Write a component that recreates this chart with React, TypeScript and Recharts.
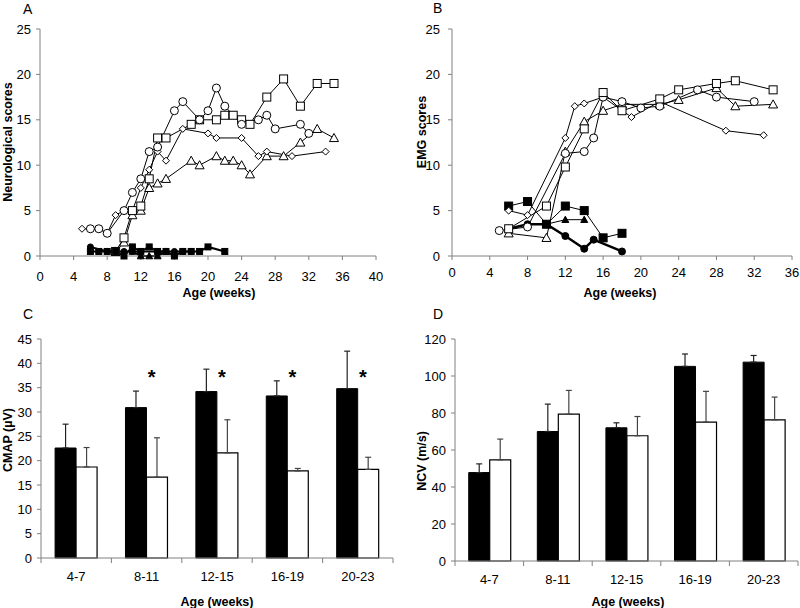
import { Bar, ComposedChart, ErrorBar, Label, Line, LineChart, XAxis, YAxis } from 'recharts';

const FONT = '"Liberation Sans", Arial, sans-serif';
const AXIS = '#808080';

// A: neurological scores by age (weeks)
const neuroDiamondWeeks = [5, 6, 7, 8, 9, 10, 11, 12, 13, 14, 15, 17, 20, 21, 24, 26, 27, 30, 34];
const neuroDiamond = [3, 3, 3, 2.5, 4.5, 5, 5, 7.5, 9.5, 11.5, 10.5, 14, 13.5, 13, 13, 11, 11.5, 11, 11.5];
const neuroCircleWeeks = [6, 7, 8, 10, 11, 12, 13, 14, 16, 17, 19, 20, 21, 22, 24, 26, 27, 28, 31, 32];
const neuroCircle = [3, 3, 2.5, 5, 7, 8.5, 11.5, 12, 16, 17, 15, 16, 18.5, 16.5, 14.5, 15, 15.5, 14, 14.5, 13.5];
const neuroSquareWeeks = [9, 10, 11, 12, 13, 14, 15, 18, 19, 21, 22, 23, 24, 25, 27, 29, 31, 33, 35];
const neuroSquare = [0.5, 2, 5, 5.5, 8.5, 13, 13, 14.5, 15, 15, 15.5, 15.5, 15, 14.5, 17.5, 19.5, 16.5, 19, 19];
const neuroTriangleWeeks = [9, 10, 11, 12, 13, 14, 15, 18, 19, 21, 22, 23, 24, 25, 27, 29, 31, 33, 35];
const neuroTriangle = [0.5, 1.5, 4.5, 5, 7.5, 8, 8.5, 10.5, 10, 11, 10.5, 10.5, 10, 9, 11, 11, 12.5, 14, 13];
const neuroFilledSquareWeeks = [6, 7, 8, 9, 10, 11, 12, 13, 14, 15, 16, 17, 18, 19, 20, 22];
const neuroFilledSquare = [0.5, 0.5, 0.5, 0.5, 0, 1, 0.5, 1, 0.5, 0.5, 0, 0.5, 0.5, 0.5, 1, 0.5];
const neuroFilledCircleWeeks = [6, 8, 10, 11, 12, 14, 15, 16, 17, 18];
const neuroFilledCircle = [1, 0.5, 0.5, 0.5, 0.5, 0.5, 0.5, 0.5, 0.5, 0.5];
const neuroFilledTriangleWeeks = [11, 12, 13, 14, 15];
const neuroFilledTriangle = [0.5, 0, 0, 0, 0.5];

// B: EMG scores by age (weeks)
const emgDiamondWeeks = [6, 8, 12, 13, 14, 16, 19, 22, 29, 33];
const emgDiamond = [5, 4.5, 13, 16.5, 16.8, 17.5, 15.3, 17, 13.8, 13.3];
const emgCircleWeeks = [5, 8, 12, 14, 15, 16, 18, 20, 22, 26, 28, 32];
const emgCircle = [2.8, 3.2, 11.3, 11.5, 13, 17.5, 17, 16.3, 16.5, 18.3, 17.5, 17];
const emgSquareWeeks = [6, 10, 12, 14, 16, 18, 22, 24, 28, 30, 34];
const emgSquare = [3, 5.5, 9.8, 14, 18, 16, 17.3, 18.3, 19, 19.3, 18.3];
const emgTriangleWeeks = [6, 10, 12, 14, 16, 18, 22, 24, 28, 30, 34];
const emgTriangle = [2.5, 2, 11.5, 14.8, 16, 16.7, 16.7, 17.2, 18.5, 16.5, 16.7];
const emgFilledSquareWeeks = [6, 8, 10, 12, 14, 16, 18];
const emgFilledSquare = [5.5, 6, 3.5, 5.5, 5, 2, 2.5];
const emgFilledTriangleWeeks = [10, 12, 14];
const emgFilledTriangle = [3.5, 4, 4];
const emgFilledCircleWeeks = [6, 8, 10, 12, 14, 15, 18];
const emgFilledCircle = [3, 3.5, 3.5, 2.2, 0.8, 1.8, 0.5];

const neuroWeekTicks = [0, 4, 8, 12, 16, 20, 24, 28, 32, 36, 40];
const emgWeekTicks = [0, 4, 8, 12, 16, 20, 24, 28, 32, 36];
const scoreTicks = [0, 5, 10, 15, 20, 25];

// C, D: grouped bars
const ageGroups = ['4-7', '8-11', '12-15', '16-19', '20-23'];
const cmapBlack = [22.6, 30.9, 34.2, 33.3, 34.8];
const cmapBlackErr = [4.9, 3.4, 4.6, 3.1, 7.7];
const cmapWhite = [18.7, 16.6, 21.6, 17.9, 18.2];
const cmapWhiteErr = [4.0, 8.1, 6.8, 0.5, 2.5];
const cmapSignificant = [null, 38, 38, 38, 38];
const cmapTicks = [0, 5, 10, 15, 20, 25, 30, 35, 40, 45];

const ncvBlack = [47.8, 70, 72, 105.2, 107.5];
const ncvBlackErr = [4.7, 14.8, 2.7, 6.7, 3.6];
const ncvWhite = [54.7, 79.4, 67.7, 75.1, 76.3];
const ncvWhiteErr = [11.2, 12.8, 10.4, 16.6, 12.3];
const ncvTicks = [0, 20, 40, 60, 80, 100, 120];

const toPoints = (xs: number[], ys: number[]) => xs.map((x, i) => ({ x, y: ys[i] }));

const cmapRows = ageGroups.map((age, i) => ({
  age,
  black: cmapBlack[i],
  blackErr: [0, cmapBlackErr[i]],
  white: cmapWhite[i],
  whiteErr: [0, cmapWhiteErr[i]],
  sig: cmapSignificant[i],
}));

const ncvRows = ageGroups.map((age, i) => ({
  age,
  black: ncvBlack[i],
  blackErr: [0, ncvBlackErr[i]],
  white: ncvWhite[i],
  whiteErr: [0, ncvWhiteErr[i]],
}));

type TShape = 'circle' | 'square' | 'diamond' | 'triangle';

const marker = (shape: TShape, filled: boolean, s = 4) => (props: any) => {
  const { cx, cy, index } = props;
  const key = `m-${shape}-${index}`;
  if (cx == null || cy == null) return <g key={key} />;
  const st = { fill: filled ? '#000' : '#fff', stroke: '#000', strokeWidth: 1 };
  if (shape === 'circle') return <circle key={key} cx={cx} cy={cy} r={s} {...st} />;
  if (shape === 'square')
    return <rect key={key} x={cx - s} y={cy - s} width={s * 2} height={s * 2} {...st} />;
  if (shape === 'diamond')
    return (
      <polygon key={key} points={`${cx},${cy - s} ${cx + s},${cy} ${cx},${cy + s} ${cx - s},${cy}`} {...st} />
    );
  return (
    <polygon
      key={key}
      points={`${cx},${cy - s} ${cx + s},${cy + s * 0.8} ${cx - s},${cy + s * 0.8}`}
      {...st}
    />
  );
};

const titleText = (text: string, x: number, y: number, rotate = false) => (
  <Label
    content={() => (
      <text
        x={x}
        y={y}
        transform={rotate ? `rotate(-90 ${x} ${y})` : undefined}
        textAnchor="middle"
        dominantBaseline="central"
        fontFamily={FONT}
        fontSize={12.5}
        fontWeight="bold"
        fill="#000"
      >
        {text}
      </text>
    )}
  />
);

const tickStyle = { fontSize: 13, fill: '#000', fontFamily: FONT };

type TSeries = { pts: { x: number; y: number }[]; shape: TShape; filled: boolean; size: number; width: number };

const ScorePanel = ({
  series,
  xTicks,
  left,
  yAxisWidth,
  right,
  yTitle,
  yTitleX,
  yTitleY,
  xTitleX,
  xTickMargin,
  yTickMargin,
}: {
  series: TSeries[];
  xTicks: number[];
  left: number;
  yAxisWidth: number;
  right: number;
  yTitle: string;
  yTitleX: number;
  yTitleY: number;
  xTitleX: number;
  xTickMargin: number;
  yTickMargin: number;
}) => (
  <div style={{ position: 'absolute', left, top: 0 }}>
    <LineChart width={400} height={300} margin={{ top: 29, right, bottom: 0, left: 0 }}>
      <XAxis
        type="number"
        dataKey="x"
        domain={[xTicks[0], xTicks[xTicks.length - 1]]}
        ticks={xTicks}
        interval={0}
        height={44}
        tick={tickStyle}
        tickSize={4}
        tickMargin={xTickMargin}
        tickLine={{ stroke: AXIS }}
        axisLine={{ stroke: AXIS }}
      >
        {titleText('Age (weeks)', xTitleX, 293)}
      </XAxis>
      <YAxis
        type="number"
        domain={[0, 25]}
        ticks={scoreTicks}
        interval={0}
        width={yAxisWidth}
        tick={tickStyle}
        tickSize={4}
        tickMargin={yTickMargin}
        tickLine={{ stroke: AXIS }}
        axisLine={{ stroke: AXIS }}
      >
        {titleText(yTitle, yTitleX, yTitleY, true)}
      </YAxis>
      {series.map((s, i) => (
        <Line
          key={i}
          data={s.pts}
          dataKey="y"
          type="linear"
          stroke="#000"
          strokeWidth={s.width}
          dot={marker(s.shape, s.filled, s.size)}
          activeDot={false}
          isAnimationActive={false}
        />
      ))}
    </LineChart>
  </div>
);

const neuroSeries: TSeries[] = [
  { pts: toPoints(neuroTriangleWeeks, neuroTriangle), shape: 'triangle', filled: false, size: 4.5, width: 1 },
  { pts: toPoints(neuroDiamondWeeks, neuroDiamond), shape: 'diamond', filled: false, size: 3.5, width: 1 },
  { pts: toPoints(neuroSquareWeeks, neuroSquare), shape: 'square', filled: false, size: 4, width: 1 },
  { pts: toPoints(neuroCircleWeeks, neuroCircle), shape: 'circle', filled: false, size: 4, width: 1 },
  { pts: toPoints(neuroFilledCircleWeeks, neuroFilledCircle), shape: 'circle', filled: true, size: 3, width: 2 },
  { pts: toPoints(neuroFilledTriangleWeeks, neuroFilledTriangle), shape: 'triangle', filled: true, size: 3.5, width: 2 },
  { pts: toPoints(neuroFilledSquareWeeks, neuroFilledSquare), shape: 'square', filled: true, size: 3, width: 2 },
];

const emgSeries: TSeries[] = [
  { pts: toPoints(emgFilledSquareWeeks, emgFilledSquare), shape: 'square', filled: true, size: 4, width: 1 },
  { pts: toPoints(emgFilledTriangleWeeks, emgFilledTriangle), shape: 'triangle', filled: true, size: 3.5, width: 1 },
  { pts: toPoints(emgFilledCircleWeeks, emgFilledCircle), shape: 'circle', filled: true, size: 3.5, width: 2.5 },
  { pts: toPoints(emgDiamondWeeks, emgDiamond), shape: 'diamond', filled: false, size: 3.5, width: 1 },
  { pts: toPoints(emgTriangleWeeks, emgTriangle), shape: 'triangle', filled: false, size: 4.5, width: 1 },
  { pts: toPoints(emgCircleWeeks, emgCircle), shape: 'circle', filled: false, size: 4, width: 1 },
  { pts: toPoints(emgSquareWeeks, emgSquare), shape: 'square', filled: false, size: 4, width: 1 },
];

const CategoryTick = (props: any) => {
  const { x, y, payload, index, count, band } = props;
  const axisY = y - 8;
  const half = payload && payload.offset > 0 ? payload.offset : band / 2;
  return (
    <g>
      <line x1={x - half} y1={axisY} x2={x - half} y2={axisY + 5} stroke={AXIS} />
      {index === count - 1 && <line x1={x + half} y1={axisY} x2={x + half} y2={axisY + 5} stroke={AXIS} />}
      <text x={x} y={axisY + 23} textAnchor="middle" fontSize={13} fontFamily={FONT} fill="#000">
        {payload.value}
      </text>
    </g>
  );
};

const StarMark = (props: any) => {
  const { cx, cy, value, index } = props;
  const key = `star-${index}`;
  if (value == null || cx == null || cy == null) return <g key={key} />;
  return (
    <text key={key} x={cx + 5} y={cy + 11} textAnchor="middle" fontSize={20} fontWeight="bold" fontFamily={FONT} fill="#000">
      *
    </text>
  );
};

const BarPanel = ({
  rows,
  left,
  yAxisWidth,
  right,
  xAxisHeight,
  yMax,
  yTicks,
  yTitle,
  yTitleX,
  yTitleY,
  xTitleX,
  band,
  withStars,
}: {
  rows: any[];
  left: number;
  yAxisWidth: number;
  right: number;
  xAxisHeight: number;
  yMax: number;
  yTicks: number[];
  yTitle: string;
  yTitleX: number;
  yTitleY: number;
  xTitleX: number;
  band: number;
  withStars: boolean;
}) => (
  <div style={{ position: 'absolute', left, top: 300 }}>
    <ComposedChart
      width={400}
      height={308}
      data={rows}
      margin={{ top: 39, right, bottom: 0, left: 0 }}
      barCategoryGap="20%"
      barGap={0}
    >
      <XAxis
        dataKey="age"
        interval={0}
        height={xAxisHeight}
        tickSize={6}
        tickMargin={2}
        tickLine={false}
        axisLine={{ stroke: AXIS }}
        tick={(p: any) => <CategoryTick {...p} count={rows.length} band={band} />}
      >
        {titleText('Age (weeks)', xTitleX, 301.5)}
      </XAxis>
      <YAxis
        type="number"
        domain={[0, yMax]}
        ticks={yTicks}
        interval={0}
        width={yAxisWidth}
        tick={tickStyle}
        tickSize={4}
        tickMargin={5}
        tickLine={{ stroke: AXIS }}
        axisLine={{ stroke: AXIS }}
      >
        {titleText(yTitle, yTitleX, yTitleY, true)}
      </YAxis>
      <Bar dataKey="black" fill="#000" stroke="#000" strokeWidth={1} isAnimationActive={false}>
        <ErrorBar dataKey="blackErr" width={3} stroke="#222" strokeWidth={1.2} direction="y" />
      </Bar>
      <Bar dataKey="white" fill="#fff" stroke="#000" strokeWidth={1.2} isAnimationActive={false}>
        <ErrorBar dataKey="whiteErr" width={3} stroke="#444" strokeWidth={1.2} direction="y" />
      </Bar>
      {withStars && (
        <Line dataKey="sig" stroke="none" dot={StarMark} activeDot={false} isAnimationActive={false} />
      )}
    </ComposedChart>
  </div>
);

const panelLetters = [
  { t: 'A', x: 23, y: 13.5 },
  { t: 'B', x: 433, y: 13 },
  { t: 'C', x: 23, y: 318.5 },
  { t: 'D', x: 433, y: 318.5 },
];

export default function App() {
  return (
    <div style={{ position: 'absolute', left: 0, top: 0, width: 800, height: 608, background: '#fff' }}>
      <ScorePanel
        series={neuroSeries}
        xTicks={neuroWeekTicks}
        left={0}
        yAxisWidth={40}
        right={24}
        yTitle="Neurological scores"
        yTitleX={8}
        yTitleY={142}
        xTitleX={219}
        xTickMargin={12}
        yTickMargin={5}
      />
      <ScorePanel
        series={emgSeries}
        xTicks={emgWeekTicks}
        left={400}
        yAxisWidth={52}
        right={8}
        yTitle="EMG scores"
        yTitleX={22}
        yTitleY={132}
        xTitleX={220}
        xTickMargin={8}
        yTickMargin={8}
      />
      <BarPanel
        rows={cmapRows}
        left={0}
        yAxisWidth={41}
        right={7}
        xAxisHeight={50}
        yMax={45}
        yTicks={cmapTicks}
        yTitle="CMAP (µV)"
        yTitleX={8}
        yTitleY={140}
        xTitleX={217}
        band={70.4}
        withStars
      />
      <BarPanel
        rows={ncvRows}
        left={400}
        yAxisWidth={55}
        right={2}
        xAxisHeight={47}
        yMax={120}
        yTicks={ncvTicks}
        yTitle="NCV (m/s)"
        yTitleX={22}
        yTitleY={161}
        xTitleX={228}
        band={68.6}
        withStars={false}
      />
      <svg width={800} height={608} style={{ position: 'absolute', left: 0, top: 0, pointerEvents: 'none' }}>
        {panelLetters.map((p) => (
          <text key={p.t} x={p.x} y={p.y} fontFamily={FONT} fontSize={14} fill="#000">
            {p.t}
          </text>
        ))}
      </svg>
    </div>
  );
}
